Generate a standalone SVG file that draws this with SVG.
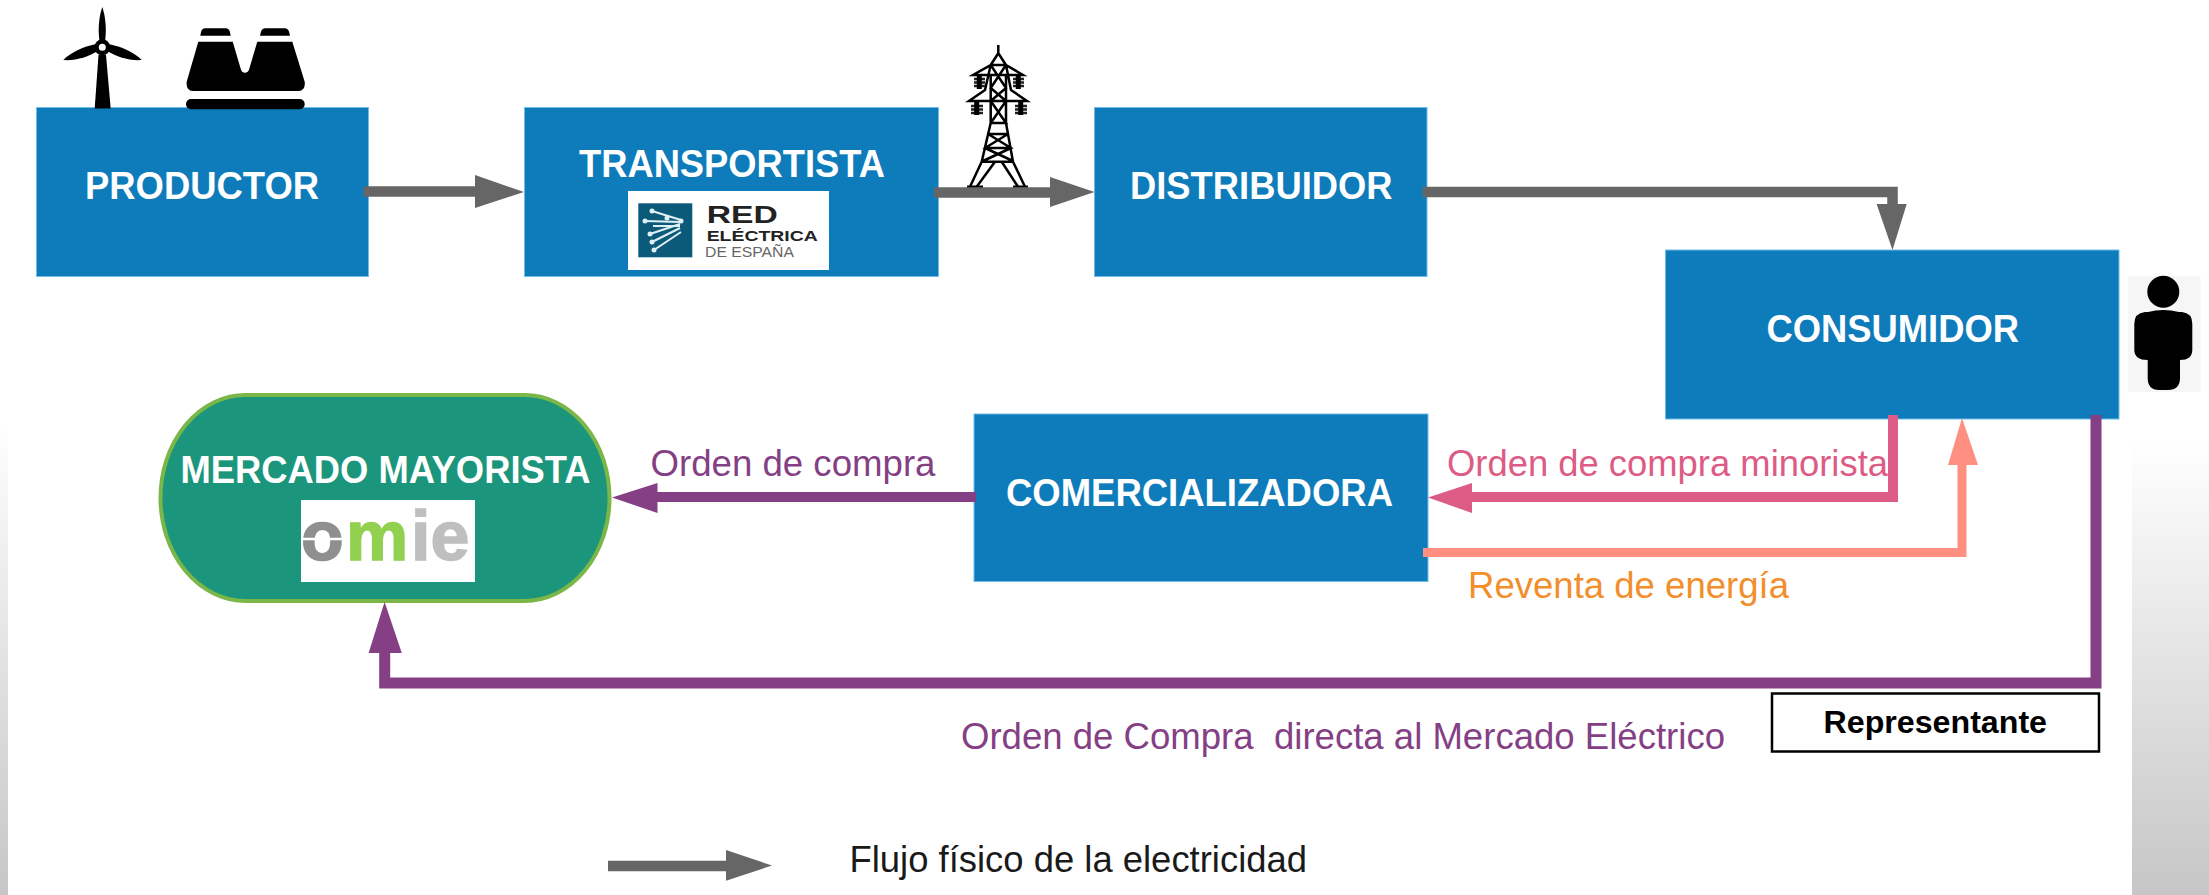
<svg xmlns="http://www.w3.org/2000/svg" width="2209" height="895" viewBox="0 0 2209 895">
<style>
text{font-family:"Liberation Sans",Arial,sans-serif;white-space:pre}
.box{fill:#0e7bbb;stroke:#6fbce6;stroke-width:1}
.nl{fill:#fff;font-weight:700;font-size:38px}
.lbl{font-size:37px}
.w{fill:#fff}
.gray{fill:none;stroke:#666;stroke-width:10.500}
.gh{fill:#666}
.pur{fill:none;stroke:#843f85;stroke-width:11}
.ph{fill:#843f85}
.ptx{fill:#843f85}
.pyl{fill:none;stroke:#000;stroke-width:2.500}
.ins{fill:none;stroke:#222;stroke-width:2.500}
.blk{fill:#000}
</style>
<defs>
<linearGradient id="fade" x1="0" y1="0" x2="0" y2="1"><stop offset="0" stop-color="#fff"/><stop offset="1" stop-color="#c6c6c6"/></linearGradient>
</defs>
<rect id="band-left" x="0" y="420" width="8" height="475" fill="url(#fade)"/>
<rect id="band-right" x="2132" y="440" width="77" height="455" fill="url(#fade)"/>

<g id="producer">
<rect class="box" x="36.500" y="107.500" width="332" height="169"/>
<text class="nl" x="85" y="199" textLength="234" lengthAdjust="spacingAndGlyphs">PRODUCTOR</text>
</g>
<g id="wind-turbine" class="blk">
<path d="M98.500 55h7.500l4.700 53.500h-16z"/>
<path d="M102.300 7C105 15 107 28 105 41h-5.500C97.500 28 99.500 15 102.300 7z"/>
<path d="M108 44C120 46 134 52 141.700 60 130 61 116 57 106 50z"/>
<path d="M96.500 44C85 46 71 52 63.300 60 75 61 89 57 99 50z"/>
<circle cx="102.300" cy="47.300" r="8"/><circle class="w" cx="102.300" cy="47.300" r="3.500"/>
</g>
<g id="cooling-towers" class="blk">
<path d="M205 28.300h21q4 0 4.700 7.400h-30.400q.7-7.400 4.700-7.400z"/>
<path d="M265 28.300h20q4 0 5 7.400h-30q1-7.400 5-7.400z"/>
<path d="M198.300 41.700h34.400l8 27q1 4 4.300 4t4.300-4l8-27h35l12.400 40q1 9.300-7 9.300h-104q-8 0-7-9.300z"/>
<rect x="186" y="99" width="118.700" height="10.300" rx="5"/>
</g>

<g id="transportista">
<rect class="box" x="524.500" y="107.500" width="414" height="169"/>
<text class="nl" x="579" y="177" textLength="306" lengthAdjust="spacingAndGlyphs">TRANSPORTISTA</text>
<rect class="w" x="628" y="191" width="201" height="79"/>
<rect x="638.300" y="203.300" width="54" height="54" fill="#0b5a7a"/>
<g fill="none" stroke="#dff0f5" stroke-width="2">
<path d="M652 211L681 220M645 221L681 222M650 234L680 224M654 250L681 232M652 242L680 228M653 226L680 226"/>
</g>
<g fill="#dff0f5"><circle cx="652" cy="211" r="2.500"/><circle cx="645" cy="221" r="2.500"/><circle cx="650" cy="234" r="2.500"/><circle cx="654" cy="250" r="2.500"/><circle cx="652" cy="242" r="2.500"/><circle cx="681" cy="221" r="2.500"/><circle cx="667" cy="218" r="2.500"/></g>
<text x="706.700" y="222.700" font-size="24" font-weight="700" fill="#222" textLength="71" lengthAdjust="spacingAndGlyphs">RED</text>
<text x="706.700" y="240.700" font-size="14" font-weight="700" fill="#222" textLength="111" lengthAdjust="spacingAndGlyphs">ELÉCTRICA</text>
<text x="705" y="257" font-size="15" fill="#666" textLength="89" lengthAdjust="spacingAndGlyphs">DE ESPAÑA</text>
</g>
<g id="pylon">
<path class="pyl" d="M998.300 45V53.300L990.700 65L973 75H1023L1006 65L998.300 53.300M990.700 65H1006M990.700 65L985 90L969 101H1027L1011 90L1006 65M990.700 75V123M1006 75V123M990.700 65L1006 88L990.700 101L1006 123L990.700 123M1006 65L990.700 88L1006 101L990.700 123M990.700 123L981.700 161.700H1013L1006 123M988 134H1008M985 148H1011M988 134L1011 148L983 161M1008 134L985 148L1013 161M981.700 161.700L970 186.700M995 161.700L976.700 186.700M1001.700 161.700L1018 186.700M1013 161.700L1025 186.700"/>
<path class="pyl" style="stroke-width:4" d="M967 187.500H983M1013 187.500H1028"/>
<path class="ins" d="M974 79H985M974 82.500H985M974 86H985M1013 79H1024M1013 82.500H1024M1013 86H1024M971 106H983M971 109.500H983M971 113H983M1015 106H1027M1015 109.500H1027M1015 113H1027"/>
<path class="pyl" style="stroke-width:5" d="M979.300 75V89M1018.300 75V89M976.700 101V115M1020.700 101V115"/>
</g>

<g id="distribuidor">
<rect class="box" x="1094.500" y="107.500" width="332.500" height="169"/>
<text class="nl" x="1130" y="199" textLength="262.500" lengthAdjust="spacingAndGlyphs">DISTRIBUIDOR</text>
</g>

<g id="consumidor">
<rect class="box" x="1665.500" y="250" width="453.500" height="169"/>
<text class="nl" x="1766.500" y="341.700" textLength="252.500" lengthAdjust="spacingAndGlyphs">CONSUMIDOR</text>
</g>
<g id="person">
<rect x="2128" y="276" width="72.500" height="116" fill="#f6f6f6"/>
<circle class="blk" cx="2163.300" cy="291.700" r="16"/>
<path class="blk" d="M2148 312Q2163.300 308 2179 312H2182Q2192.300 313 2192.300 324V350Q2192.300 360 2180 360V378Q2180 390 2168 390H2159Q2147.700 390 2147.700 378V360Q2134.300 360 2134.300 350V324Q2134.300 313 2145 312z"/>
</g>

<g id="comercializadora">
<rect class="box" x="974" y="414" width="454" height="167.500"/>
<text class="nl" x="1006" y="505.700" textLength="387" lengthAdjust="spacingAndGlyphs">COMERCIALIZADORA</text>
</g>

<g id="mercado">
<rect x="160.500" y="395" width="449" height="206" rx="85" ry="103" fill="#1b967c" stroke="#7ab648" stroke-width="4"/>
<text class="nl" x="180.500" y="483" textLength="410" lengthAdjust="spacingAndGlyphs">MERCADO MAYORISTA</text>
<rect class="w" x="301" y="500" width="174" height="82"/>
<text y="560" font-size="70" font-weight="700" stroke-width="1.500"><tspan x="301" fill="#8f8f8f" stroke="#8f8f8f">o</tspan><tspan x="346" fill="#92d050" stroke="#92d050">m</tspan><tspan x="411" fill="#bfbfbf" stroke="#bfbfbf">ie</tspan></text>
<path d="M302 539H345" stroke="#fff" stroke-width="2.500"/>
</g>

<g id="representante">
<rect x="1772" y="693.500" width="327" height="58" fill="#fff" stroke="#000" stroke-width="2.500"/>
<text x="1823.500" y="733" font-size="32" font-weight="700" fill="#000" textLength="223.500" lengthAdjust="spacingAndGlyphs">Representante</text>
</g>

<g id="connectors">
<path class="gray" d="M363.500 191.500H476"/><polygon class="gh" points="475,175 524,192 475,208"/>
<path class="gray" d="M934 192.500H1051"/><polygon class="gh" points="1050,177 1094.500,192 1050,207"/>
<path class="gray" d="M1422.500 192H1892.500V205"/><polygon class="gh" points="1876.600,204 1906.700,204 1892.500,250"/>
<path class="pur" style="stroke-width:10" d="M976 497H657"/><polygon class="ph" points="657.500,483 657.500,513 612,497.500"/>
<path fill="none" stroke="#dc5c85" stroke-width="10" d="M1893 415V497H1472"/><polygon fill="#dc5c85" points="1472,483 1472,513 1428,497.500"/>
<path fill="none" stroke="#ff8f80" stroke-width="9" d="M1423 552.500H1962V465"/><polygon fill="#ff8f80" points="1948,465 1978,465 1962,418"/>
<path class="pur" d="M2096 415V683H384.700V653"/><polygon class="ph" points="368.600,653 401.800,653 384.600,602"/>
</g>

<g id="labels">
<text class="lbl ptx" x="650.500" y="476" textLength="285" lengthAdjust="spacingAndGlyphs">Orden de compra</text>
<text class="lbl" fill="#dc5c85" x="1447" y="476" textLength="441" lengthAdjust="spacingAndGlyphs">Orden de compra minorista</text>
<text class="lbl" fill="#f28e2b" x="1468" y="598" textLength="321" lengthAdjust="spacingAndGlyphs">Reventa de energía</text>
<text class="lbl ptx" x="961" y="749" textLength="764" lengthAdjust="spacingAndGlyphs">Orden de Compra  directa al Mercado Eléctrico</text>
</g>

<g id="legend">
<path class="gray" d="M608 866H727"/><polygon class="gh" points="726,850 726,880.700 772,865.500"/>
<text class="lbl" fill="#1a1a1a" x="849.500" y="871.700" textLength="457.500" lengthAdjust="spacingAndGlyphs">Flujo físico de la electricidad</text>
</g>
</svg>
